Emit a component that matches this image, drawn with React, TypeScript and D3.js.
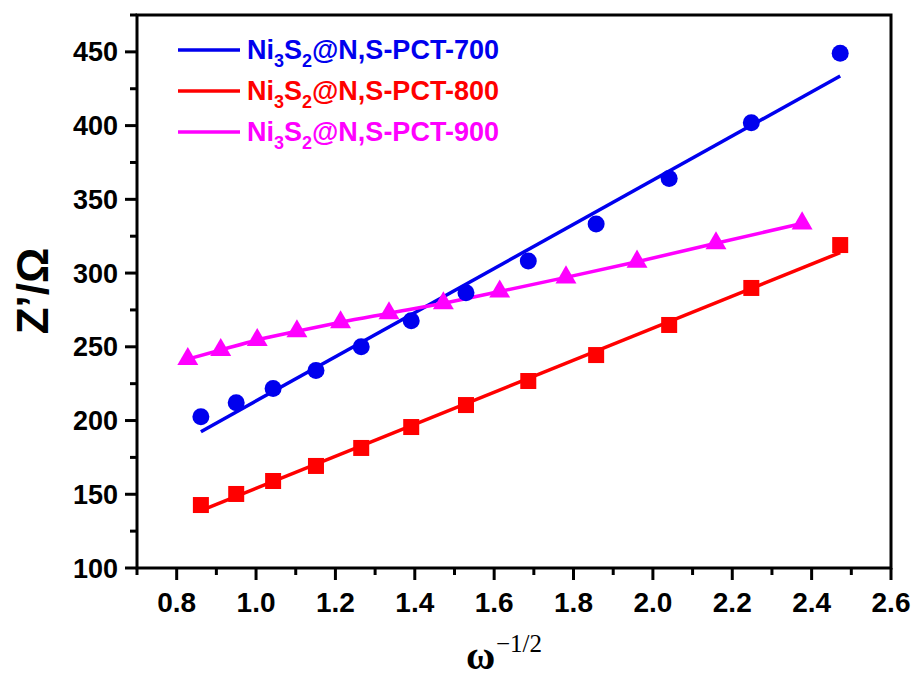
import React from "react";
import * as d3 from "d3";

// ω^-1/2 values shared by the 700 and 800 samples
const xShared = [0.861, 0.950, 1.043, 1.151, 1.265, 1.391, 1.529, 1.686, 1.857, 2.041, 2.248, 2.472];
const z700 = [202.6, 212.0, 221.8, 234.0, 250.0, 267.7, 286.7, 308.2, 333.3, 364.2, 402.0, 449.0];
const z800 = [142.7, 150.2, 159.0, 169.2, 181.4, 195.6, 210.5, 226.8, 244.4, 264.8, 289.9, 319.0];
const x900 = [0.828, 0.911, 1.003, 1.103, 1.213, 1.335, 1.472, 1.614, 1.781, 1.960, 2.159, 2.376];
const z900 = [241.7, 247.8, 254.6, 260.5, 266.6, 272.7, 279.5, 287.5, 297.1, 307.7, 320.2, 333.7];

const seriesNames = ["Ni3S2@N,S-PCT-700", "Ni3S2@N,S-PCT-800", "Ni3S2@N,S-PCT-900"];
const seriesColors = ["#0000ee", "#ff0000", "#ff00ff"];

const xTickValues = [0.8, 1.0, 1.2, 1.4, 1.6, 1.8, 2.0, 2.2, 2.4, 2.6];
const xMinorValues = [0.7, 0.9, 1.1, 1.3, 1.5, 1.7, 1.9, 2.1, 2.3, 2.5];
const yTickValues = [100, 150, 200, 250, 300, 350, 400, 450];
const yMinorValues = [125, 175, 225, 275, 325, 375, 425, 475];

const W = 920;
const H = 677;
const left = 137;
const right = 891;
const top = 15;
const bottom = 568;

function linearFit(xs: number[], ys: number[]) {
  const mx = d3.mean(xs)!;
  const my = d3.mean(ys)!;
  let num = 0;
  let den = 0;
  xs.forEach((x, i) => {
    num += (x - mx) * (ys[i] - my);
    den += (x - mx) * (x - mx);
  });
  const slope = num / den;
  const intercept = my - slope * mx;
  return (x: number) => intercept + slope * x;
}

function LegendLabel({ name, color, x, y }: { name: string; color: string; x: number; y: number }) {
  // "Ni3S2@..." with the 3 and 2 as subscripts
  const rest = name.slice(5);
  return (
    <text x={x} y={y} fill={color} fontFamily="Liberation Sans, Arial, sans-serif" fontWeight="bold" fontSize={27}>
      <tspan>Ni</tspan>
      <tspan fontSize={18} dy={8}>3</tspan>
      <tspan dy={-8}>S</tspan>
      <tspan fontSize={18} dy={8}>2</tspan>
      <tspan dy={-8}>{rest}</tspan>
    </text>
  );
}

export default function App() {
  const x = d3.scaleLinear().domain([0.7, 2.6]).range([left, right]);
  const y = d3.scaleLinear().domain([100, 475]).range([bottom, top]);

  const fit700 = linearFit(xShared, z700);
  const fit800 = linearFit(xShared, z800);
  const xFirst = xShared[0];
  const xLast = xShared[xShared.length - 1];

  const line900 = d3
    .line<number>()
    .x((_, i) => x(x900[i]))
    .y((d) => y(d))
    .curve(d3.curveMonotoneX)(z900);

  const tri = d3.symbol().type(d3.symbolTriangle).size(190)()!;

  const font = "Liberation Sans, Arial, sans-serif";
  const serif = "Liberation Serif, Times New Roman, serif";

  return (
    <svg width={W} height={H} style={{ position: "absolute", left: 0, top: 0, background: "#fff" }}>
      <rect x={0} y={0} width={W} height={H} fill="#fff" />

      {/* fitted lines */}
      <line x1={x(xFirst)} y1={y(fit700(xFirst))} x2={x(xLast)} y2={y(fit700(xLast))} stroke={seriesColors[0]} strokeWidth={3.5} />
      <line x1={x(xFirst)} y1={y(fit800(xFirst))} x2={x(xLast)} y2={y(fit800(xLast))} stroke={seriesColors[1]} strokeWidth={3.5} />
      <path d={line900 ?? ""} fill="none" stroke={seriesColors[2]} strokeWidth={3.5} />

      {/* markers */}
      {z700.map((v, i) => (
        <circle key={"c" + i} cx={x(xShared[i])} cy={y(v)} r={8.5} fill={seriesColors[0]} />
      ))}
      {z800.map((v, i) => (
        <rect key={"s" + i} x={x(xShared[i]) - 8} y={y(v) - 8} width={16} height={16} fill={seriesColors[1]} />
      ))}
      {z900.map((v, i) => (
        <path key={"t" + i} d={tri} transform={`translate(${x(x900[i])},${y(v)})`} fill={seriesColors[2]} />
      ))}

      {/* frame */}
      <rect x={left} y={top} width={right - left} height={bottom - top} fill="none" stroke="#000" strokeWidth={3} />

      {/* x axis ticks */}
      {xTickValues.map((v) => (
        <g key={"xt" + v}>
          <line x1={x(v)} x2={x(v)} y1={bottom} y2={bottom + 12} stroke="#000" strokeWidth={3} />
          <text x={x(v)} y={612} textAnchor="middle" fontFamily={font} fontWeight="bold" fontSize={28}>
            {d3.format(".1f")(v)}
          </text>
        </g>
      ))}
      {xMinorValues.map((v) => (
        <line key={"xm" + v} x1={x(v)} x2={x(v)} y1={bottom} y2={bottom + 7} stroke="#000" strokeWidth={3} />
      ))}

      {/* y axis ticks */}
      {yTickValues.map((v) => (
        <g key={"yt" + v}>
          <line x1={left - 12} x2={left} y1={y(v)} y2={y(v)} stroke="#000" strokeWidth={3} />
          <text x={left - 19} y={y(v) + 9.5} textAnchor="end" fontFamily={font} fontWeight="bold" fontSize={27}>
            {v}
          </text>
        </g>
      ))}
      {yMinorValues.map((v) => (
        <line key={"ym" + v} x1={left - 7} x2={left} y1={y(v)} y2={y(v)} stroke="#000" strokeWidth={3} />
      ))}

      {/* axis titles */}
      <text
        transform={`translate(48,291) rotate(-90)`}
        textAnchor="middle"
        fontFamily={font}
        fontWeight="bold"
        fontSize={44}
      >
        Z’/Ω
      </text>
      <text x={466} y={669} fontFamily={serif} fontWeight="bold" fontSize={40}>
        ω
      </text>
      <text x={496} y={652} fontFamily={serif} fontSize={25}>
        −1/2
      </text>

      {/* legend */}
      {seriesNames.map((name, i) => (
        <g key={name}>
          <line x1={178} x2={240} y1={50 + i * 41} y2={50 + i * 41} stroke={seriesColors[i]} strokeWidth={3.5} />
          <LegendLabel name={name} color={seriesColors[i]} x={247} y={59 + i * 41} />
        </g>
      ))}
    </svg>
  );
}
